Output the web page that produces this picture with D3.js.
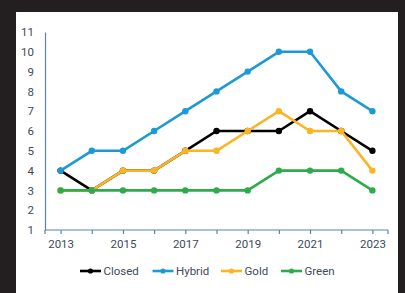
<!DOCTYPE html>
<html>
<head>
<meta charset="utf-8">
<script src="https://cdn.jsdelivr.net/npm/d3@7"></script>
<style>
  html, body { margin: 0; padding: 0; background: #231f20; }
  svg { display: block; }
  text { font-family: Roboto, "Noto Sans", sans-serif; }
</style>
</head>
<body>
<script>
// chart data
const years = ["2013","2014","2015","2016","2017","2018","2019","2020","2021","2022","2023"];
const closed = [4, 3, 4, 4, 5, 6, 6, 6, 7, 6, 5];
const hybrid = [4, 5, 5, 6, 7, 8, 9, 10, 10, 8, 7];
const gold   = [3, 3, 4, 4, 5, 5, 6, 7, 6, 6, 4];
const green  = [3, 3, 3, 3, 3, 3, 3, 4, 4, 4, 3];
const seriesNames = ["Closed", "Hybrid", "Gold", "Green"];
const yTicks = [1, 2, 3, 4, 5, 6, 7, 8, 9, 10, 11];
const xLabels = ["2013", "2015", "2017", "2019", "2021", "2023"];

function main() {
    let series = [closed, hybrid, gold, green].map((vals, i) => ({
        name: seriesNames[i],
        values: vals.map((v, j) => ({ year: years[j], value: v }))
    }));
    drawChart(series);
}

function drawChart(series) {
    var width = 405, height = 293;
    var textColor = "#3e4a59", axisColor = "#5a84a6";
    var colors = d3.scaleOrdinal()
        .domain(seriesNames)
        .range(["#000000", "#1c9ad6", "#fbb424", "#2eab4b"]);

    var svg = d3.select("body").append("svg")
        .attr("width", width)
        .attr("height", height);

    // white panel
    svg.append("rect")
        .attr("x", 16).attr("y", 12)
        .attr("width", 382).attr("height", height - 12)
        .attr("fill", "#ffffff");

    var x = d3.scalePoint()
        .domain(years)
        .range([45, 388])
        .padding(0.5);

    var y = d3.scaleLinear()
        .domain([1, 11])
        .range([230, 32]);

    // x axis
    var xAxis = svg.append("g")
        .attr("transform", "translate(0,230)")
        .call(d3.axisBottom(x)
            .tickSize(4)
            .tickPadding(6)
            .tickFormat(d => xLabels.includes(d) ? d : ""));
    xAxis.select(".domain").attr("d", "M" + x.range()[0] + ",0H" + x.range()[1]);
    // ticks at the axis ends
    x.range().forEach(px => {
        xAxis.append("line").attr("x1", px).attr("x2", px).attr("y1", 0).attr("y2", 4);
    });
    xAxis.selectAll("path, line").attr("stroke", axisColor).attr("stroke-width", 1.2);
    xAxis.selectAll("text")
        .attr("fill", textColor)
        .style("font-size", "11.5px");

    // y axis
    var yAxis = svg.append("g")
        .attr("transform", "translate(" + x.range()[0] + ",0)")
        .call(d3.axisLeft(y).tickValues(yTicks).tickSize(0).tickPadding(11));
    yAxis.select(".domain").attr("stroke", axisColor).attr("stroke-width", 1.2);
    yAxis.selectAll("text")
        .attr("fill", textColor)
        .style("font-size", "11.5px");

    var line = d3.line()
        .x(d => x(d.year))
        .y(d => y(d.value));

    var g = svg.append("g");
    series.forEach(s => {
        g.append("path")
            .datum(s.values)
            .attr("fill", "none")
            .attr("stroke", colors(s.name))
            .attr("stroke-width", 2.6)
            .attr("stroke-linejoin", "round")
            .attr("d", line);
        g.selectAll(".pt-" + s.name)
            .data(s.values)
            .enter().append("circle")
            .attr("cx", d => x(d.year))
            .attr("cy", d => y(d.value))
            .attr("r", 3.2)
            .attr("fill", colors(s.name));
    });

    // legend
    var legendX = [80, 152.5, 221, 281];
    var legend = svg.append("g").attr("transform", "translate(0,271)");
    seriesNames.forEach((name, i) => {
        var lg = legend.append("g").attr("transform", "translate(" + legendX[i] + ",0)");
        lg.append("line")
            .attr("x1", 0).attr("x2", 21)
            .attr("stroke", colors(name)).attr("stroke-width", 2.6);
        lg.append("circle").attr("cx", 10.5).attr("r", 2.6).attr("fill", colors(name));
        lg.append("text")
            .attr("x", 23.5).attr("dy", "0.35em")
            .attr("fill", textColor)
            .style("font-size", "11.5px")
            .text(name);
    });
}

main();
</script>
</body>
</html>
